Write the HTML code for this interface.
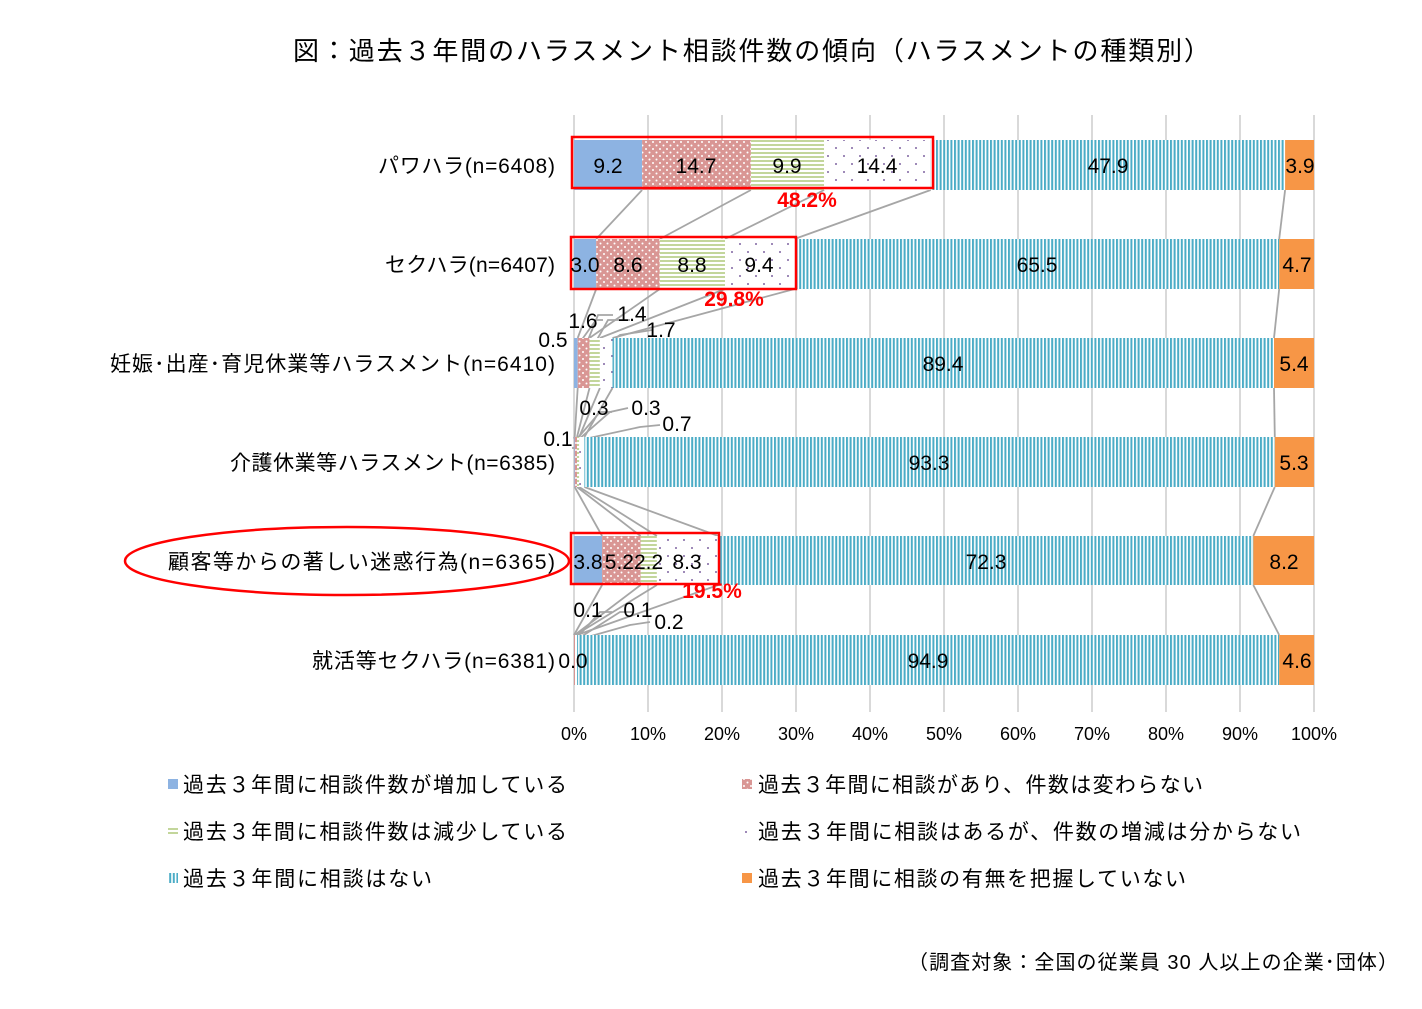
<!DOCTYPE html>
<html><head><meta charset="utf-8"><style>
html,body{margin:0;padding:0;background:#fff}
svg{display:block;font-family:"Liberation Sans","Noto Sans CJK JP",sans-serif}
</style></head><body>
<svg width="1422" height="1009" viewBox="0 0 1422 1009" xmlns="http://www.w3.org/2000/svg">
<defs>
<pattern id="pr" width="7" height="7" patternUnits="userSpaceOnUse"><rect width="7" height="7" fill="#d99694"/><circle cx="2" cy="2" r="1" fill="#fff"/><circle cx="5.5" cy="5.5" r="1" fill="#fff"/></pattern>
<pattern id="pg" width="4" height="4" patternUnits="userSpaceOnUse"><rect width="4" height="4" fill="#fff"/><rect width="4" height="2" fill="#c3d69b"/></pattern>
<pattern id="pw" width="16" height="16" patternUnits="userSpaceOnUse"><rect width="16" height="16" fill="#fff"/><circle cx="4" cy="4" r="1" fill="#8064a2"/><circle cx="12" cy="12" r="1" fill="#8064a2"/></pattern>
<pattern id="pb" width="3.6" height="4" patternUnits="userSpaceOnUse"><rect width="3.6" height="4" fill="#fff"/><rect width="2" height="4" fill="#4bacc6"/></pattern>
</defs>
<rect width="1422" height="1009" fill="#fff"/>
<text x="293" y="60" font-size="26" textLength="917" lengthAdjust="spacing" fill="#000">図：過去３年間のハラスメント相談件数の傾向（ハラスメントの種類別）</text>
<g stroke="#d9d9d9" stroke-width="2">
<line x1="574" y1="115" x2="574" y2="712"/><line x1="648" y1="115" x2="648" y2="712"/><line x1="722" y1="115" x2="722" y2="712"/><line x1="796" y1="115" x2="796" y2="712"/><line x1="870" y1="115" x2="870" y2="712"/><line x1="944" y1="115" x2="944" y2="712"/><line x1="1018" y1="115" x2="1018" y2="712"/><line x1="1092" y1="115" x2="1092" y2="712"/><line x1="1166" y1="115" x2="1166" y2="712"/><line x1="1240" y1="115" x2="1240" y2="712"/><line x1="1314" y1="115" x2="1314" y2="712"/>
</g>
<g stroke="#a6a6a6" stroke-width="1.8" fill="none">
<line x1="642.1" y1="190" x2="596.2" y2="239"/><line x1="750.9" y1="190" x2="659.8" y2="239"/><line x1="824.1" y1="190" x2="725" y2="239"/><line x1="930.7" y1="190" x2="794.5" y2="239"/><line x1="1285.1" y1="190" x2="1279.2" y2="239"/>
<line x1="596.2" y1="289" x2="577.7" y2="338"/><line x1="659.8" y1="289" x2="589.5" y2="338"/><line x1="725" y1="289" x2="599.9" y2="338"/><line x1="794.5" y1="289" x2="612.5" y2="338"/><line x1="1279.2" y1="289" x2="1274" y2="338"/>
<line x1="577.7" y1="388" x2="574.7" y2="437"/><line x1="589.5" y1="388" x2="577" y2="437"/><line x1="599.9" y1="388" x2="579.2" y2="437"/><line x1="612.5" y1="388" x2="584.4" y2="437"/><line x1="1274" y1="388" x2="1274.8" y2="437"/>
<line x1="574.7" y1="487" x2="602.1" y2="536"/><line x1="577" y1="487" x2="640.6" y2="536"/><line x1="579.2" y1="487" x2="656.9" y2="536"/><line x1="584.4" y1="487" x2="718.3" y2="536"/><line x1="1274.8" y1="487" x2="1253.3" y2="536"/>
<line x1="602.1" y1="585" x2="574" y2="635"/><line x1="640.6" y1="585" x2="574.7" y2="635"/><line x1="656.9" y1="585" x2="575.5" y2="635"/><line x1="718.3" y1="585" x2="577" y2="635"/><line x1="1253.3" y1="585" x2="1279.2" y2="635"/>
<polyline points="578,345 596,320 603,320"/><polyline points="586,345 598,315 613,315"/><polyline points="594,345 608,320 630,320"/><polyline points="606,345 620,335 652,330"/>
<polyline points="574,437 578,448 572,448"/><polyline points="576,440 600,412 612,412"/><polyline points="578,440 610,412 628,408"/><polyline points="580,440 640,427 660,425"/>
<polyline points="574,660 580,660"/><polyline points="575,640 600,612 612,612"/><polyline points="576,640 620,612 632,612"/><polyline points="577,640 630,625 650,622"/>
</g>
<g>
<rect x="574" y="140" width="68.1" height="50" fill="#8db3e2"/><rect x="642.1" y="140" width="108.8" height="50" fill="url(#pr)"/><rect x="750.9" y="140" width="73.2" height="50" fill="url(#pg)"/><rect x="824.1" y="140" width="106.6" height="50" fill="url(#pw)"/><rect x="930.7" y="140" width="354.4" height="50" fill="url(#pb)"/><rect x="1285.1" y="140" width="28.9" height="50" fill="#f79646"/>
<rect x="574" y="239" width="22.2" height="50" fill="#8db3e2"/><rect x="596.2" y="239" width="63.6" height="50" fill="url(#pr)"/><rect x="659.8" y="239" width="65.2" height="50" fill="url(#pg)"/><rect x="725" y="239" width="69.5" height="50" fill="url(#pw)"/><rect x="794.5" y="239" width="484.7" height="50" fill="url(#pb)"/><rect x="1279.2" y="239" width="34.8" height="50" fill="#f79646"/>
<rect x="574" y="338" width="3.7" height="50" fill="#8db3e2"/><rect x="577.7" y="338" width="11.8" height="50" fill="url(#pr)"/><rect x="589.5" y="338" width="10.4" height="50" fill="url(#pg)"/><rect x="599.9" y="338" width="12.6" height="50" fill="url(#pw)"/><rect x="612.5" y="338" width="661.5" height="50" fill="url(#pb)"/><rect x="1274" y="338" width="40" height="50" fill="#f79646"/>
<rect x="574" y="437" width="0.7" height="50" fill="#8db3e2"/><rect x="574.7" y="437" width="2.3" height="50" fill="url(#pr)"/><rect x="577" y="437" width="2.2" height="50" fill="url(#pg)"/><rect x="579.2" y="437" width="5.2" height="50" fill="url(#pw)"/><rect x="584.4" y="437" width="690.4" height="50" fill="url(#pb)"/><rect x="1274.8" y="437" width="39.2" height="50" fill="#f79646"/>
<rect x="574" y="536" width="28.1" height="49" fill="#8db3e2"/><rect x="602.1" y="536" width="38.5" height="49" fill="url(#pr)"/><rect x="640.6" y="536" width="16.3" height="49" fill="url(#pg)"/><rect x="656.9" y="536" width="61.4" height="49" fill="url(#pw)"/><rect x="718.3" y="536" width="535" height="49" fill="url(#pb)"/><rect x="1253.3" y="536" width="60.7" height="49" fill="#f79646"/>
<rect x="574" y="635" width="1" height="50" fill="url(#pr)"/><rect x="575" y="635" width="2" height="50" fill="url(#pw)"/><rect x="577" y="635" width="702.2" height="50" fill="url(#pb)"/><rect x="1279.2" y="635" width="34.8" height="50" fill="#f79646"/>
</g>
<g fill="none" stroke="#ff0000" stroke-width="2.5">
<rect x="572" y="137" width="361" height="51"/><rect x="571" y="237" width="225" height="52"/><rect x="571" y="533" width="148" height="51"/>
<ellipse cx="347" cy="561" rx="222" ry="34"/>
</g>
<g font-size="21" text-anchor="middle" fill="#000">
<text x="608" y="173">9.2</text><text x="696" y="173">14.7</text><text x="787" y="173">9.9</text><text x="877" y="173">14.4</text><text x="1108" y="173">47.9</text><text x="1300" y="173">3.9</text>
<text x="585" y="272">3.0</text><text x="628" y="272">8.6</text><text x="692" y="272">8.8</text><text x="759" y="272">9.4</text><text x="1037" y="272">65.5</text><text x="1297" y="272">4.7</text>
<text x="943" y="371">89.4</text><text x="1294" y="371">5.4</text>
<text x="929" y="470">93.3</text><text x="1294" y="470">5.3</text>
<text x="588" y="569">3.8</text><text x="634" y="569">5.22.2</text><text x="687" y="569">8.3</text><text x="986" y="569">72.3</text><text x="1284" y="569">8.2</text>
<text x="928" y="668">94.9</text><text x="1297" y="668">4.6</text>
<text x="553" y="347">0.5</text><text x="583" y="328">1.6</text><text x="632" y="321">1.4</text><text x="661" y="337">1.7</text>
<text x="558" y="446">0.1</text><text x="594" y="415">0.3</text><text x="646" y="415">0.3</text><text x="677" y="431">0.7</text>
<text x="573" y="668">0.0</text><text x="588" y="617">0.1</text><text x="638" y="617">0.1</text><text x="669" y="629">0.2</text>
</g>
<g font-size="21" font-weight="bold" fill="#ff0000" text-anchor="middle">
<text x="807" y="207">48.2%</text><text x="734" y="306">29.8%</text><text x="712" y="598">19.5%</text>
</g>
<g font-size="21" fill="#000">
<text x="378" y="173" textLength="177" lengthAdjust="spacing">パワハラ(n=6408)</text>
<text x="385" y="272" textLength="170" lengthAdjust="spacing">セクハラ(n=6407)</text>
<text x="110" y="371" textLength="445" lengthAdjust="spacing">妊娠･出産･育児休業等ハラスメント(n=6410)</text>
<text x="230" y="470" textLength="325" lengthAdjust="spacing">介護休業等ハラスメント(n=6385)</text>
<text x="168" y="569" textLength="387" lengthAdjust="spacing">顧客等からの著しい迷惑行為(n=6365)</text>
<text x="312" y="668" textLength="243" lengthAdjust="spacing">就活等セクハラ(n=6381)</text>
</g>
<g font-size="18" text-anchor="middle" fill="#000">
<text x="574" y="740">0%</text><text x="648" y="740">10%</text><text x="722" y="740">20%</text><text x="796" y="740">30%</text><text x="870" y="740">40%</text><text x="944" y="740">50%</text><text x="1018" y="740">60%</text><text x="1092" y="740">70%</text><text x="1166" y="740">80%</text><text x="1240" y="740">90%</text><text x="1314" y="740">100%</text>
</g>
<rect x="168" y="779" width="10" height="10" fill="#8db3e2"/>
<rect x="742" y="779" width="10" height="10" fill="url(#pr)"/>
<rect x="168" y="826" width="10" height="10" fill="url(#pg)"/>
<circle cx="746" cy="832" r="1" fill="#8064a2"/>
<rect x="168" y="873" width="10" height="10" fill="url(#pb)"/>
<rect x="742" y="873" width="10" height="10" fill="#f79646"/>
<g font-size="21" fill="#000">
<text x="183" y="792" textLength="384" lengthAdjust="spacing">過去３年間に相談件数が増加している</text>
<text x="758" y="792" textLength="445" lengthAdjust="spacing">過去３年間に相談があり、件数は変わらない</text>
<text x="183" y="839" textLength="384" lengthAdjust="spacing">過去３年間に相談件数は減少している</text>
<text x="758" y="839" textLength="543" lengthAdjust="spacing">過去３年間に相談はあるが、件数の増減は分からない</text>
<text x="183" y="886" textLength="249" lengthAdjust="spacing">過去３年間に相談はない</text>
<text x="758" y="886" textLength="428" lengthAdjust="spacing">過去３年間に相談の有無を把握していない</text>
<text x="908" y="969" font-size="20" textLength="490" lengthAdjust="spacing">（調査対象：全国の従業員 30 人以上の企業･団体）</text>
</g>
</svg>
</body></html>
